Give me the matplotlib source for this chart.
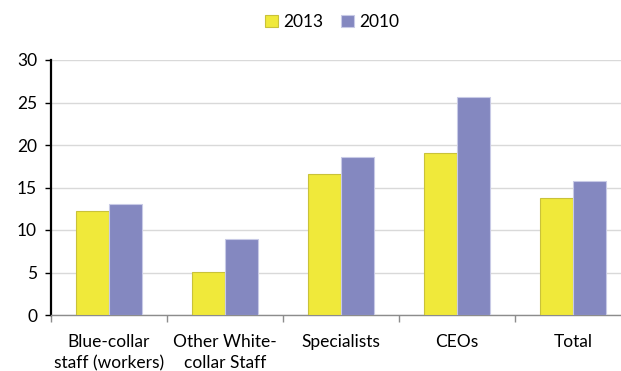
import numpy as np
import matplotlib.pyplot as plt

plt.rcParams['font.family'] = ['Lato', 'DejaVu Sans']

categories = ["Blue-collar\nstaff (workers)", "Other White-\ncollar Staff",
              "Specialists", "CEOs", "Total"]
vals_2013 = [12.2, 5.1, 16.6, 19.1, 13.8]
vals_2010 = [13.1, 9.0, 18.6, 25.7, 15.8]

fig = plt.figure(figsize=(6.21, 3.71), dpi=100)
ax = fig.add_axes([51 / 621, 56 / 371, 580 / 621, 255 / 371])

x = np.arange(len(categories))
w = 0.285
ax.bar(x - w / 2, vals_2013, w, color='#F0E93A', edgecolor='#C9C23A',
       linewidth=0.8, label='2013', zorder=3)
ax.bar(x + w / 2, vals_2010, w, color='#8488C0', edgecolor='#C8CAE6',
       linewidth=0.8, label='2010', zorder=3)

ax.set_xlim(-0.5, len(categories) - 0.5)
ax.set_ylim(0, 30)
ax.set_yticks(range(0, 31, 5))
ax.yaxis.grid(True, color='#D9D9D9', linewidth=1, zorder=0)
ax.set_axisbelow(True)

# category labels centred, tick marks at the group boundaries
ax.set_xticks(x)
ax.set_xticklabels(categories, fontsize=12.5, linespacing=1.35)
ax.tick_params(axis='x', length=0, pad=14)
ax.set_xticks(np.arange(-0.5, len(categories), 1), minor=True)
ax.tick_params(axis='x', which='minor', length=5, color='#8C8C8C', width=1)
ax.tick_params(axis='y', labelsize=12.5, length=4, width=1, color='black', pad=6)

for s in ['top', 'right']:
    ax.spines[s].set_visible(False)
ax.spines['left'].set_color('black')
ax.spines['left'].set_linewidth(1.6)
ax.spines['bottom'].set_color('#8C8C8C')
ax.spines['bottom'].set_linewidth(1)

fig.legend(loc='center', bbox_to_anchor=(332 / 621, 1 - 22 / 371), ncol=2,
           frameon=False, fontsize=12.5, handlelength=0.75, handleheight=0.75,
           handletextpad=0.3, columnspacing=1.0)

fig.savefig('out.png', dpi=100)
